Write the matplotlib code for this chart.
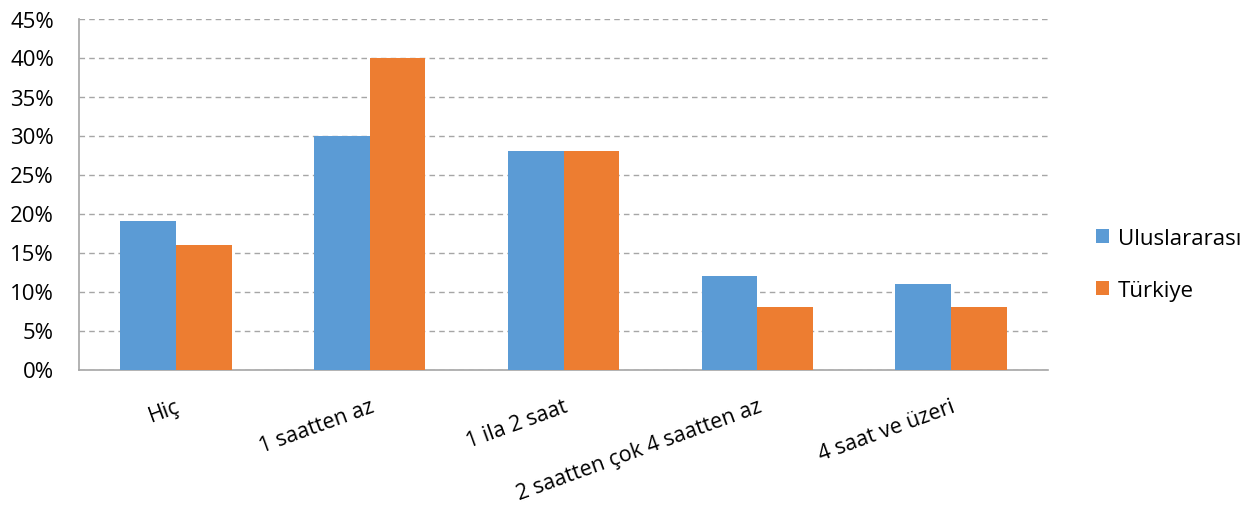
import numpy as np
import matplotlib.pyplot as plt
from matplotlib.ticker import PercentFormatter

# veriler
categories = ['Hiç', '1 saatten az', '1 ila 2 saat', '2 saatten çok 4 saatten az', '4 saat ve üzeri']
uluslararasi = [19, 30, 28, 12, 11]
turkiye = [16, 40, 28, 8, 8]

plt.rcParams['font.family'] = ['Open Sans', 'DejaVu Sans']

fig = plt.figure(figsize=(12.53, 5.06), dpi=100)
ax = fig.add_axes([79 / 1253, 1 - 370.5 / 506, (1048 - 79) / 1253, (370.5 - 19.5) / 506])

x = np.arange(len(categories))
w = 0.287
ax.bar(x - w / 2, uluslararasi, w, color='#5b9bd5', label='Uluslararası', zorder=3)
ax.bar(x + w / 2, turkiye, w, color='#ed7d31', label='Türkiye', zorder=3)

ax.set_xlim(-0.5, len(categories) - 0.5)
ax.set_ylim(0, 45)
ax.set_yticks(np.arange(0, 46, 5))
ax.yaxis.set_major_formatter(PercentFormatter(decimals=0))
ax.tick_params(axis='y', length=0, labelsize=16, pad=18)
ax.tick_params(axis='x', length=0, labelsize=15.5, pad=19)
ax.grid(axis='y', linestyle=(0, (4, 3)), color='#a6a6a6', linewidth=1, zorder=0)

ax.set_xticks(x)
ax.set_xticklabels(categories, rotation=20, ha='right', rotation_mode='anchor')

for side in ['top', 'right']:
    ax.spines[side].set_visible(False)
for side in ['left', 'bottom']:
    ax.spines[side].set_color('#a6a6a6')
    ax.spines[side].set_linewidth(1.2)

ax.legend(loc='center left', bbox_to_anchor=(1.04, 0.30), frameon=False, fontsize=16,
          handlelength=0.6, handleheight=0.6, handletextpad=0.4, labelspacing=1.4,
          borderaxespad=0)

plt.savefig('out.png')
